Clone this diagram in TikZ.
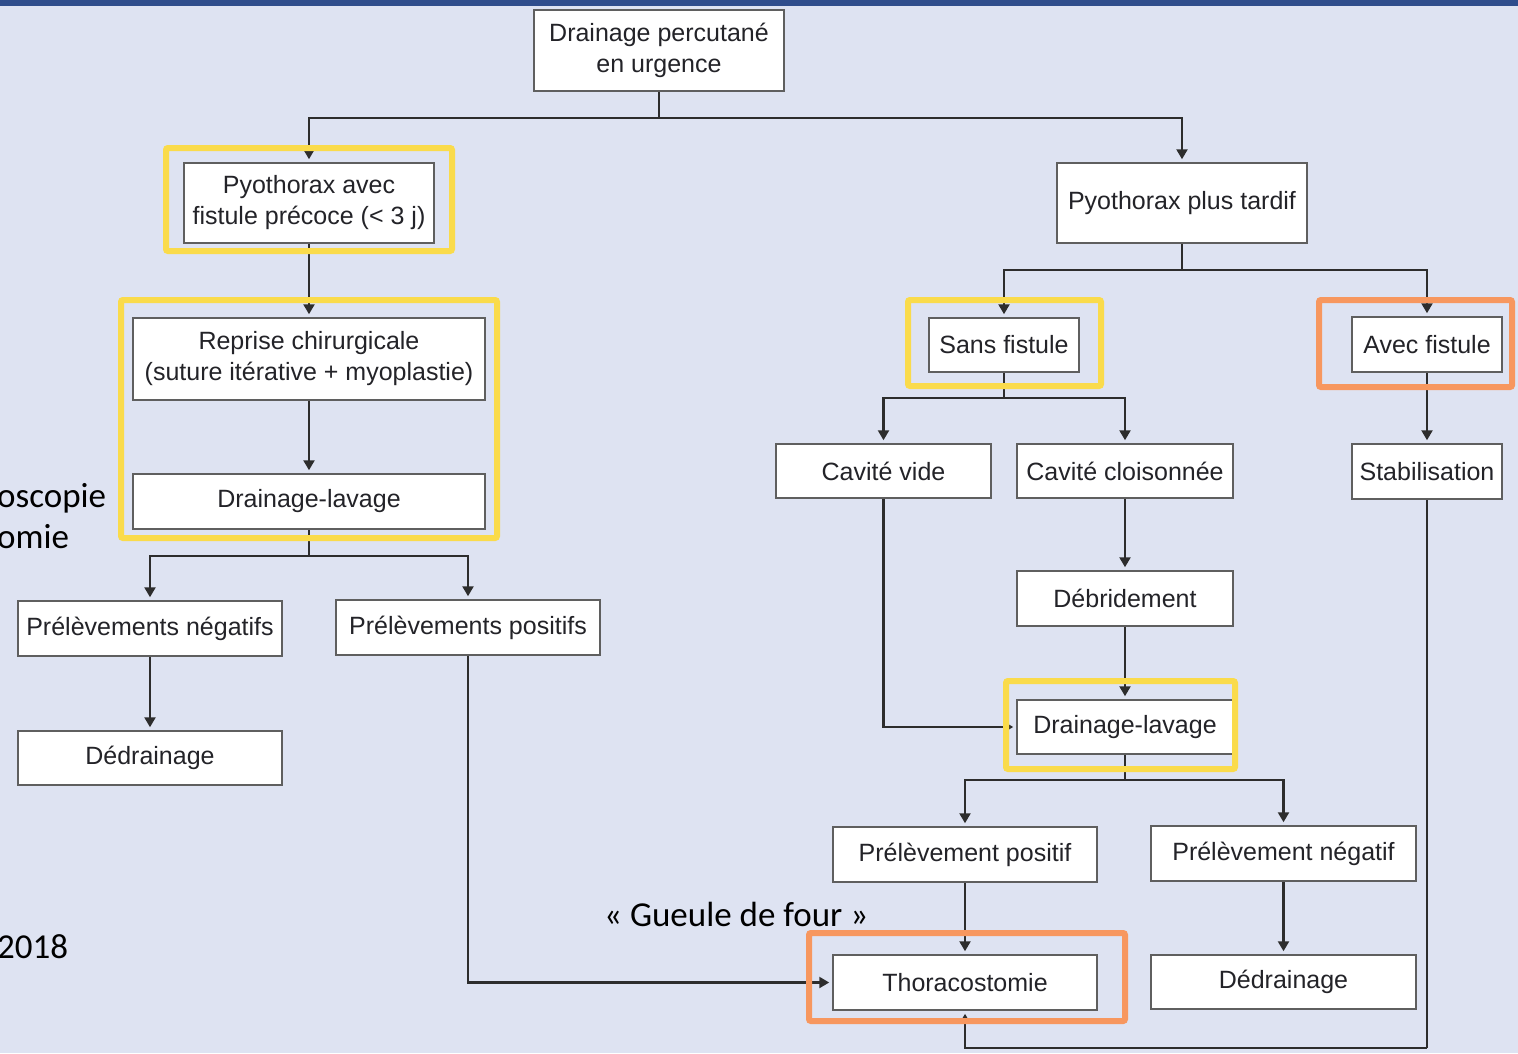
\documentclass[tikz,border=0pt]{standalone}
\usepackage{fontspec}
\setmainfont{Liberation Sans}
\newfontfamily\calib{Carlito}
\usetikzlibrary{arrows.meta}
\definecolor{bgc}{RGB}{222,227,242}
\definecolor{barc}{RGB}{47,77,140}
\definecolor{boxc}{RGB}{95,95,95}
\definecolor{lnc}{RGB}{45,45,45}
\definecolor{txt}{RGB}{35,35,40}
\definecolor{hly}{RGB}{250,219,75}
\definecolor{hlo}{RGB}{247,151,95}
\begin{document}
\begin{tikzpicture}[x=1pt,y=-1pt,
  box/.style={draw=boxc, line width=1.5pt, fill=white, inner sep=0pt, align=center,
    font=\fontsize{25}{31}\selectfont, text=txt},
  ln/.style={draw=lnc, line width=2.3pt},
  arr/.style={ln, -{Triangle[width=11pt,length=10pt]}, shorten >=3pt},
  hly/.style={draw=hly, line width=6pt, rounded corners=2pt},
  hlo/.style={draw=hlo, line width=6pt, rounded corners=2pt},
  side/.style={inner sep=0pt, anchor=base west, font=\calib\fontsize{35}{40}\selectfont, text=black}]
\useasboundingbox (0,0) rectangle (1518,1053);
\fill[bgc] (0,0) rectangle (1518,1053);
\fill[barc] (0,0) rectangle (1518,6);

% side texts
\node[side] (t1) at (-3,507) {oscopie};
\node[side] (t2) at (-3,548) {omie};
\node[side] (t3) at (-3,958) {2018};
\node[side] (t4) at (604,926) {« Gueule de four »};

% boxes
\node[box, minimum width=250pt, minimum height=81pt] (top) at (659,50.5) {Drainage percutané\\en urgence};
\node[box, minimum width=250pt, minimum height=80pt] (pyoA) at (309,203) {Pyothorax avec\\fistule précoce (< 3 j)};
\node[box, minimum width=250pt, minimum height=80pt] (pyoB) at (1182,203) {Pyothorax plus tardif};
\node[box, minimum width=352pt, minimum height=82pt] (rep) at (309,359) {Reprise chirurgicale\\(suture itérative + myoplastie)};
\node[box, minimum width=352pt, minimum height=55pt] (dlA) at (309,501.5) {Drainage-lavage};
\node[box, minimum width=264pt, minimum height=55pt] (pnA) at (150,628.5) {Prélèvements négatifs};
\node[box, minimum width=264pt, minimum height=55pt] (ppA) at (468,627.5) {Prélèvements positifs};
\node[box, minimum width=264pt, minimum height=54pt] (dedA) at (150,758) {Dédrainage};
\node[box, minimum width=150pt, minimum height=54pt] (sans) at (1004,345) {Sans fistule};
\node[box, minimum width=150pt, minimum height=55pt] (avec) at (1427,344.5) {Avec fistule};
\node[box, minimum width=215pt, minimum height=54pt] (vide) at (883.5,471) {Cavité vide};
\node[box, minimum width=216pt, minimum height=54pt] (clois) at (1125,471) {Cavité cloisonnée};
\node[box, minimum width=150pt, minimum height=55pt] (stab) at (1427,471.5) {Stabilisation};
\node[box, minimum width=216pt, minimum height=55pt] (debr) at (1125,598.5) {Débridement};
\node[box, minimum width=216pt, minimum height=54pt] (dlB) at (1125,727) {Drainage-lavage};
\node[box, minimum width=264pt, minimum height=55pt] (ppB) at (965,854.5) {Prélèvement positif};
\node[box, minimum width=265pt, minimum height=55pt] (pnB) at (1283.5,853.5) {Prélèvement négatif};
\node[box, minimum width=264pt, minimum height=55pt] (thor) at (965,982.5) {Thoracostomie};
\node[box, minimum width=265pt, minimum height=54pt] (dedB) at (1283.5,982) {Dédrainage};

% junctions
\coordinate (j1) at (659,118);
\coordinate (j2) at (309,556);
\coordinate (j3) at (1182,270);
\coordinate (j4) at (1004,398);
\coordinate (j5) at (1125,780);
\coordinate (j6) at (1427,1048);

% connectors
\draw[ln] (top.south) -- (j1);
\draw[arr] (j1) -| (pyoA.north);
\draw[arr] (j1) -| (pyoB.north);
\draw[arr] (pyoA.south) -- (rep.north);
\draw[arr] (rep.south) -- (dlA.north);
\draw[ln] (dlA.south) -- (j2);
\draw[arr] (j2) -| (pnA.north);
\draw[arr] (j2) -| (ppA.north);
\draw[arr] (pnA.south) -- (dedA.north);
\draw[arr] (ppA.south) |- (thor.west);
\draw[ln] (pyoB.south) -- (j3);
\draw[arr] (j3) -| (sans.north);
\draw[arr] (j3) -| (avec.north);
\draw[ln] (sans.south) -- (j4);
\draw[arr] (j4) -| (vide.north);
\draw[arr] (j4) -| (clois.north);
\draw[arr] (avec.south) -- (stab.north);
\draw[arr] (clois.south) -- (debr.north);
\draw[arr] (debr.south) -- (dlB.north);
\draw[arr] (vide.south) |- (dlB.west);
\draw[ln] (dlB.south) -- (j5);
\draw[arr] (j5) -| (ppB.north);
\draw[arr] (j5) -| (pnB.north);
\draw[arr] (ppB.south) -- (thor.north);
\draw[arr] (pnB.south) -- (dedB.north);
\draw[ln] (stab.south) -- (j6);
\draw[arr] (j6) -| (thor.south);

% highlight frames
\draw[hly] (166,148) rectangle (452,251);
\draw[hly] (121,300) rectangle (497,538);
\draw[hly] (908,300) rectangle (1101,386);
\draw[hlo] (1319,300) rectangle (1512,387);
\draw[hly] (1006,681) rectangle (1235,769);
\draw[hlo] (809,933) rectangle (1125,1021);
\end{tikzpicture}
\end{document}
